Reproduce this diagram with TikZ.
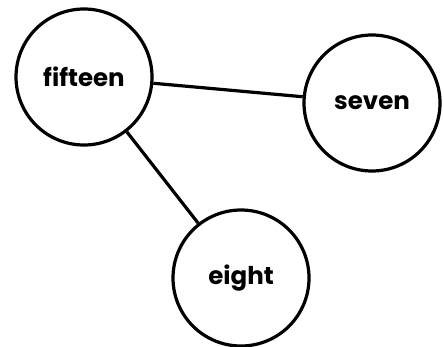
\documentclass[tikz,border=0pt]{standalone}
\usepackage{fontspec}
\setmainfont{Poppins}
\begin{document}
\begin{tikzpicture}[x=1pt,y=1pt,
  vtx/.style={circle,draw=black,line width=3.2pt,minimum size=136pt,inner sep=0pt,font=\fontsize{24.5}{27}\selectfont\bfseries},
  edge/.style={line width=3.2pt}]
\useasboundingbox (0,0) rectangle (444,346);
\node[vtx] (fifteen) at (84,269) {fifteen};
\node[vtx] (seven) at (372,243) {seven};
\node[vtx] (eight) at (241,68) {eight};
\draw[edge] (fifteen) -- (seven);
\draw[edge] (fifteen) -- (eight);
\end{tikzpicture}
\end{document}
